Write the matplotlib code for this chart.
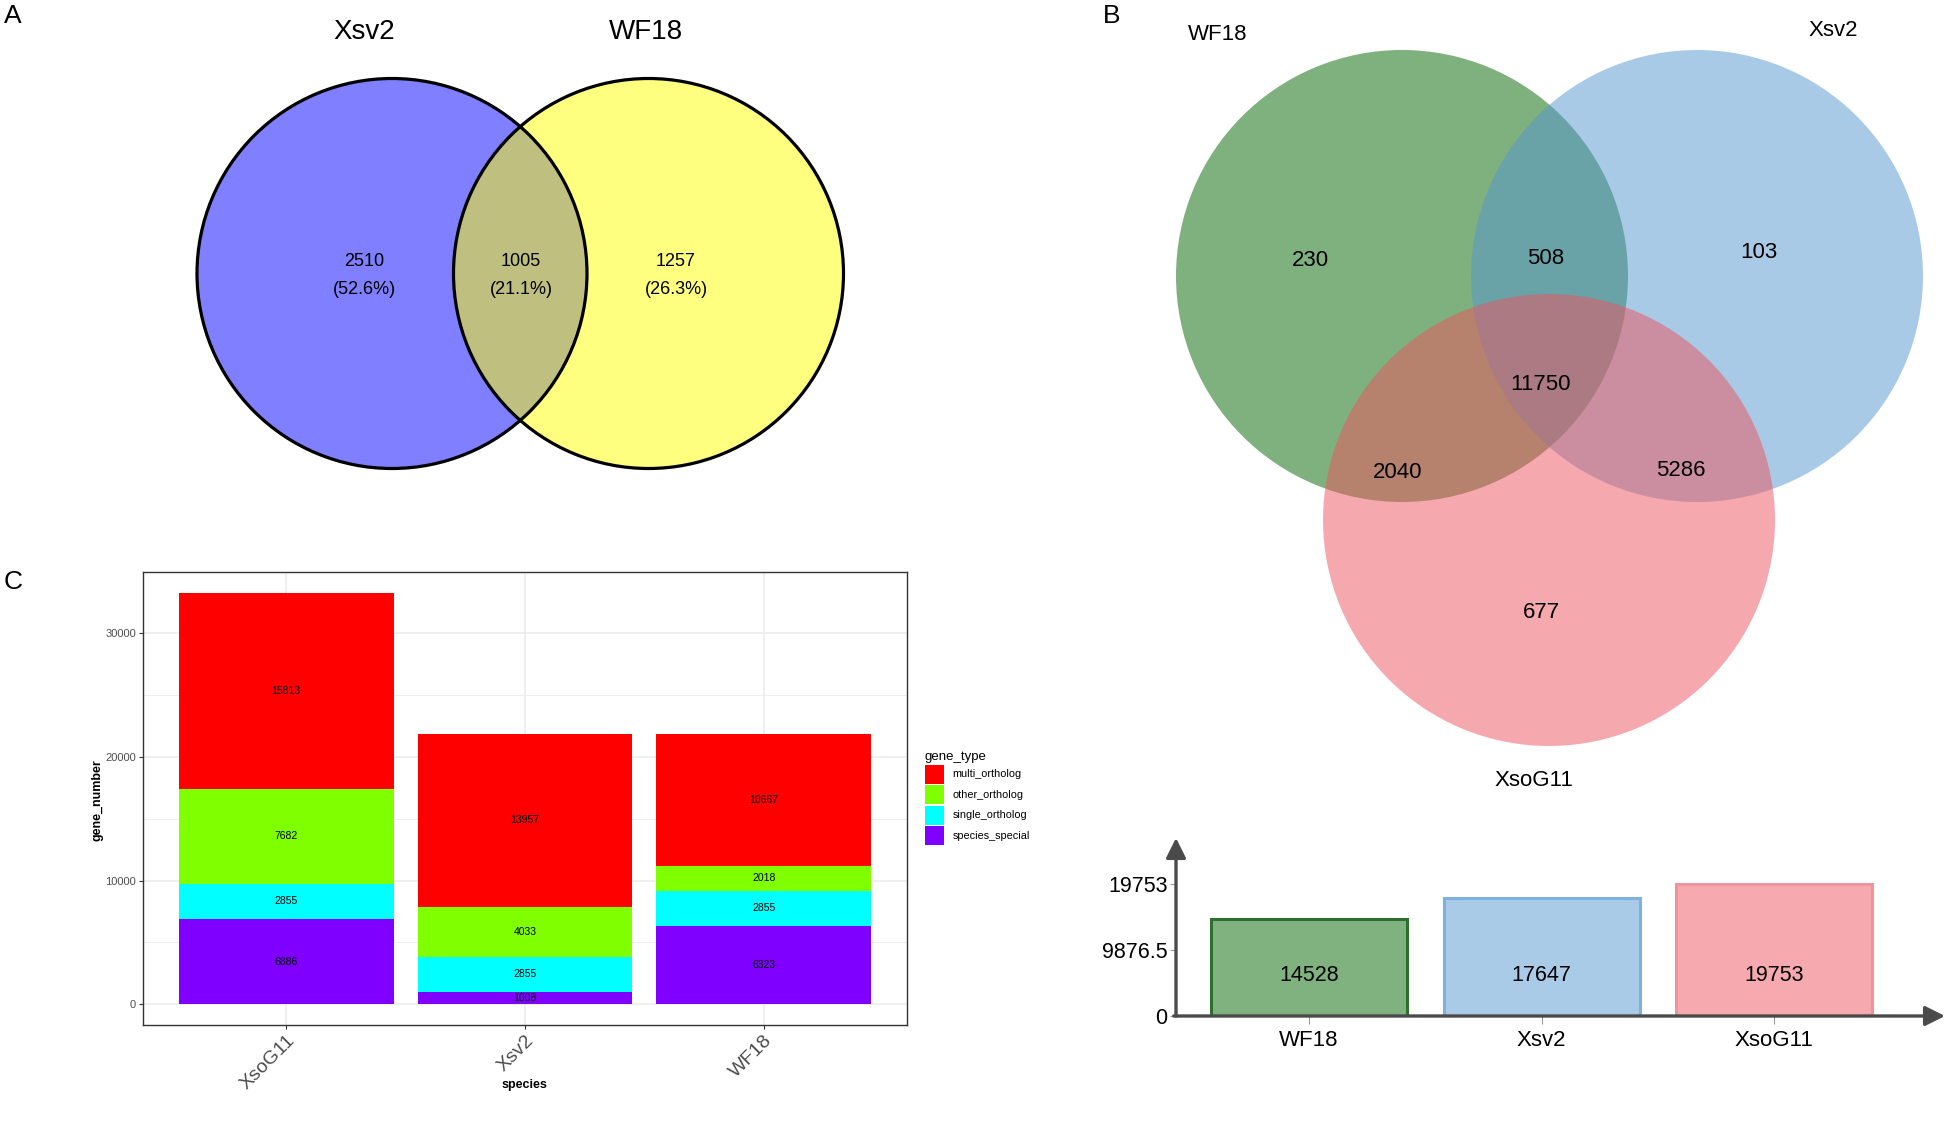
import numpy as np
import matplotlib
matplotlib.use("Agg")
import matplotlib.pyplot as plt
from matplotlib.patches import Circle

W, H = 1949, 1125
plt.rcParams['font.family'] = ['Liberation Sans', 'DejaVu Sans']

# panel A: two-set venn (Xsv2 only, shared, WF18 only)
venn2_names = ["Xsv2", "WF18"]
venn2_counts = [2510, 1005, 1257]

# panel B: three-set venn
venn3_names = ["WF18", "Xsv2", "XsoG11"]
venn3_regions = ["WF18", "WF18&Xsv2", "Xsv2", "all", "WF18&XsoG11", "Xsv2&XsoG11", "XsoG11"]
venn3_counts = [230, 508, 103, 11750, 2040, 5286, 677]

# panel B bottom: genes per species
total_species = ["WF18", "Xsv2", "XsoG11"]
total_genes = [14528, 17647, 19753]

# panel C: stacked gene types
species = ["XsoG11", "Xsv2", "WF18"]
gene_types = ["multi_ortholog", "other_ortholog", "single_ortholog", "species_special"]
multi_ortholog = [15813, 13957, 10667]
other_ortholog = [7682, 4033, 2018]
single_ortholog = [2855, 2855, 2855]
species_special = [6886, 1008, 6323]

fig = plt.figure(figsize=(W / 100, H / 100), dpi=100)


def px_axes(x0, y0, x1, y1):
    return fig.add_axes([x0 / W, 1 - y1 / H, (x1 - x0) / W, (y1 - y0) / H])


def letter(x, y, s):
    fig.text(x / W, 1 - y / H, s, fontsize=19, ha='left', va='center')


# ---------------- panel A ----------------
axA = px_axes(0, 0, 880, 480)
axA.set_xlim(0, 880)
axA.set_ylim(480, 0)
axA.axis('off')
centers2 = [(392, 273.5), (648.5, 273.5)]
for (cx, cy), col in zip(centers2, ['#0000ff', '#ffff00']):
    axA.add_patch(Circle((cx, cy), 195, fc=col, alpha=0.5, ec='none'))
for cx, cy in centers2:
    axA.add_patch(Circle((cx, cy), 195, fill=False, ec='black', lw=2.3))
for name, x in zip(venn2_names, [364, 646]):
    axA.text(x, 32, name, fontsize=20, ha='center', va='center')
tot2 = sum(venn2_counts)
for n, x in zip(venn2_counts, [364, 521, 676]):
    axA.text(x, 261, str(n), fontsize=13, ha='center', va='center')
    axA.text(x, 289, f"({100 * n / tot2:.1f}%)", fontsize=13, ha='center', va='center')
letter(4, 16, "A")

# ---------------- panel B venn ----------------
axB = px_axes(1090, 0, 1949, 800)
axB.set_xlim(1090, 1949)
axB.set_ylim(800, 0)
axB.axis('off')
centers3 = [(1402, 276), (1697, 276), (1549, 520)]
for (cx, cy), col in zip(centers3, ['#006400', '#5597d1', '#ed535d']):
    axB.add_patch(Circle((cx, cy), 226, fc=col, alpha=0.5, ec='none'))
for name, (x, y) in zip(venn3_names, [(1218, 35), (1833, 30), (1534, 781)]):
    axB.text(x, y, name, fontsize=16, ha='center', va='center')
region_xy = [(1310, 260), (1546, 259), (1759, 252), (1541, 385),
             (1398, 472), (1681, 471), (1541, 612)]
for n, (x, y) in zip(venn3_counts, region_xy):
    axB.text(x, y, str(n), fontsize=16, ha='center', va='center')
letter(1103, 16, "B")

# ---------------- panel B bar chart ----------------
axT = px_axes(1176, 838, 1945, 1016)
xt = np.arange(len(total_species))
fills = ['#7fb27f', '#aacbe8', '#f6a9ae']
edges = ['#2e6e2e', '#80b0de', '#f0939a']
axT.bar(xt, total_genes, width=0.843, color=fills, edgecolor=edges, lw=2.2, zorder=2)
axT.set_xlim(-0.572, 2.735)
axT.set_ylim(0, max(total_genes) * 178 / 132)
for s in axT.spines.values():
    s.set_visible(False)
arrow = dict(arrowstyle='-|>', color='#4a4a4a', lw=2.4, mutation_scale=30,
             shrinkA=0, shrinkB=0)
axT.annotate('', xy=(0, 1), xytext=(0, 0), xycoords='axes fraction', arrowprops=arrow)
axT.annotate('', xy=(1, 0), xytext=(-0.003, 0), xycoords='axes fraction', arrowprops=arrow)
yt = [0, max(total_genes) / 2, max(total_genes)]
axT.set_yticks(yt)
axT.set_yticklabels([f"{v:g}" for v in yt], fontsize=15.5)
axT.set_xticks(xt)
axT.set_xticklabels(total_species, fontsize=16)
axT.tick_params(axis='y', length=4, color='#999999', pad=2)
axT.tick_params(axis='x', length=6, color='#999999', pad=4)
for i, v in enumerate(total_genes):
    axT.text(i, 6100, str(v), fontsize=15.5, ha='center', va='center', zorder=3)

# ---------------- panel C ----------------
axC = px_axes(143, 572, 907, 1025)
xc = np.arange(1, len(species) + 1)
layers = [("species_special", species_special, '#8000ff'),
          ("single_ortholog", single_ortholog, '#00ffff'),
          ("other_ortholog", other_ortholog, '#80ff00'),
          ("multi_ortholog", multi_ortholog, '#ff0000')]
bottom = np.zeros(len(species))
handles = {}
for name, vals, col in layers:
    vals = np.array(vals)
    bars = axC.bar(xc, vals, bottom=bottom, width=0.9, color=col, label=name, zorder=2)
    handles[name] = bars
    for x, b, v in zip(xc, bottom, vals):
        axC.text(x, b + v / 2, str(v), fontsize=7.5, ha='center', va='center', zorder=3)
    bottom = bottom + vals
top = bottom.max()
axC.set_xlim(0.4, 3.6)
axC.set_ylim(-0.05 * top, 1.05 * top)
axC.set_yticks([0, 10000, 20000, 30000])
axC.set_yticks([5000, 15000, 25000], minor=True)
axC.set_xticks(xc)
axC.set_xticklabels(species, rotation=45, ha='right', va='top', rotation_mode='anchor',
                    fontsize=14, color='#4d4d4d')
axC.grid(which='major', color='#ebebeb', lw=1.1)
axC.grid(which='minor', axis='y', color='#ebebeb', lw=0.6)
axC.set_axisbelow(True)
axC.tick_params(which='major', length=3, color='#333333', labelsize=8,
                labelcolor='#4d4d4d', pad=2)
axC.tick_params(axis='x', labelsize=14)
axC.tick_params(which='minor', length=0)
for s in axC.spines.values():
    s.set_color('#333333')
    s.set_linewidth(1.0)
fig.text(524 / W, 1 - 1085 / H, "species", fontsize=9, fontweight='bold', ha='center', va='center')
fig.text(98 / W, 1 - 800 / H, "gene_number", fontsize=9, fontweight='bold', rotation=90,
         ha='center', va='center')
leg = axC.legend([handles[g] for g in gene_types], gene_types, title="gene_type",
                 loc='upper left', bbox_to_anchor=(925 / W, 1 - 751 / H),
                 bbox_transform=fig.transFigure, frameon=False, fontsize=7.8,
                 title_fontsize=9.5, handlelength=1.75, handleheight=2.32,
                 labelspacing=0.14, handletextpad=0.8, borderpad=0, borderaxespad=0)
leg._legend_box.align = "left"
letter(4, 582, "C")

fig.savefig("out.png", dpi=100)
